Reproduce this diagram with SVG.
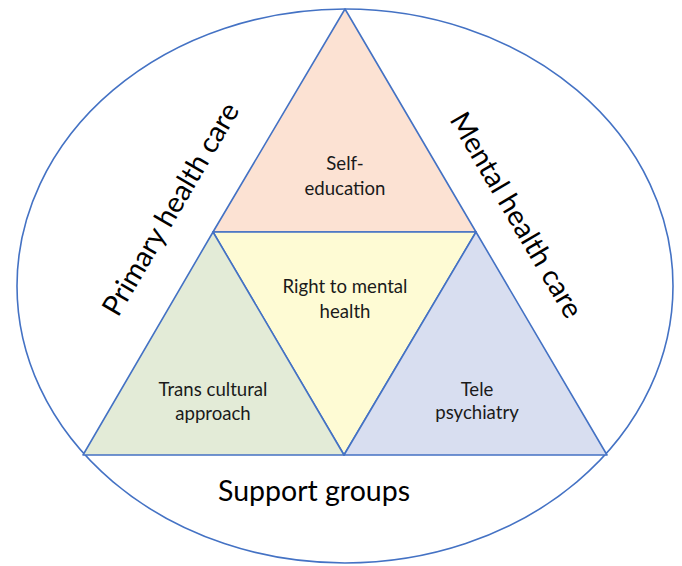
<svg xmlns="http://www.w3.org/2000/svg" width="682" height="566" viewBox="0 0 682 566">
<style>
.e{fill:#ffffff;stroke:#4472c4;stroke-width:1.6}
.t{stroke:#4472c4;stroke-width:1.6;stroke-linejoin:round}
.l{font-family:Lato,"Open Sans","Liberation Sans",sans-serif;font-size:18.6px;fill:#1a1a1a;text-anchor:middle}
.b{font-family:Lato,"Open Sans","Liberation Sans",sans-serif;font-size:28.5px;fill:#000;text-anchor:middle}
</style>
<rect width="682" height="566" fill="#ffffff"/>
<g id="outer">
<ellipse class="e" cx="345" cy="286" rx="328" ry="277"/>
<text class="b" x="314" y="501">Support groups</text>
<text class="b" transform="translate(179,214) rotate(-59.6)">Primary health care</text>
<text class="b" transform="translate(508,220) rotate(59.6)">Mental health care</text>
</g>
<g id="top">
<polygon class="t" fill="#fce2d3" points="345,9 476,232 213,232"/>
<text class="l" x="345" y="170">Self-</text>
<text class="l" x="345" y="195">education</text>
</g>
<g id="center">
<polygon class="t" fill="#fefbd4" points="213,232 476,232 344,455"/>
<text class="l" x="345" y="293">Right to mental</text>
<text class="l" x="345" y="318">health</text>
</g>
<g id="left">
<polygon class="t" fill="#e3ebd7" points="213,232 344,455 83,455"/>
<text class="l" x="213" y="396">Trans cultural</text>
<text class="l" x="213" y="420">approach</text>
</g>
<g id="right">
<polygon class="t" fill="#d8def0" points="476,232 607,455 344,455"/>
<text class="l" x="477" y="396">Tele</text>
<text class="l" x="477" y="419">psychiatry</text>
</g>
<g id="connectors"/>
</svg>
